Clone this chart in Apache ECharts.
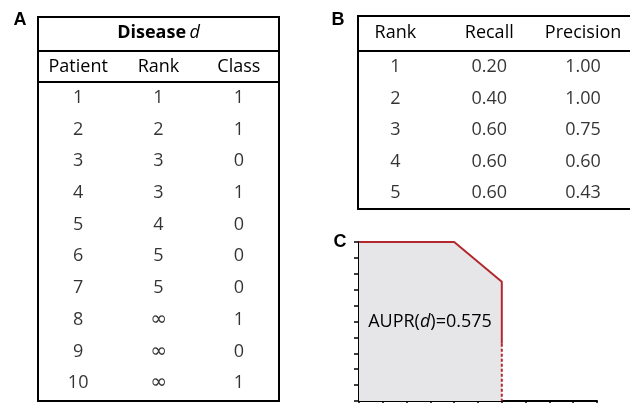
<!DOCTYPE html>
<html><head><meta charset="utf-8">
<script src="https://cdn.jsdelivr.net/npm/echarts@6/dist/echarts.min.js"></script>
<style>html,body{margin:0;padding:0;background:#fff}#c{width:630px;height:403px}</style>
</head><body><div id="c"></div>
<script>
// ---- Data ----
const colsA = ['Patient', 'Rank', 'Class'];
const patients = ['1', '2', '3', '4', '5', '6', '7', '8', '9', '10'];
const ranksA = ['1', '2', '3', '3', '4', '5', '5', '∞', '∞', '∞'];
const classes = ['1', '1', '0', '1', '0', '0', '0', '1', '0', '1'];

const colsB = ['Rank', 'Recall', 'Precision'];
const ranksB = ['1', '2', '3', '4', '5'];
const recallB = ['0.20', '0.40', '0.60', '0.60', '0.60'];
const precisionB = ['1.00', '1.00', '0.75', '0.60', '0.43'];

const curveRecall = [0, 0.4, 0.6, 0.6];
const curvePrecision = [1, 1, 0.75, 0.36];
const dashRecall = [0.6, 0.6];
const dashPrecision = [0.36, 0];
const aupr = '0.575';

// ---- Build ----
const FONT = '"Open Sans", "Noto Sans", sans-serif';
function cells(cols, columns, rows) {
  const out = [];
  columns.forEach((col, ci) => col.forEach((t, ri) => out.push({ value: [cols[ci], rows[ri]], text: t })));
  return out;
}
const dataA = cells(colsA, [patients, ranksA, classes], patients);
const dataB = cells(colsB, [ranksB, recallB, precisionB], ranksB);

const black = '#000';
const tableSeries = (xi, data) => ({
  type: 'scatter', xAxisIndex: xi, yAxisIndex: xi, data: data,
  symbolSize: 1, itemStyle: { color: 'rgba(0,0,0,0)' }, silent: true,
  label: { show: true, position: 'inside',
           formatter: p => p.data.text === '∞' ? '{inf|∞}' : p.data.text,
           color: black, fontFamily: FONT, fontSize: 18,
           rich: { inf: { fontFamily: '"DejaVu Sans", sans-serif', fontSize: 20, color: black } } }
});
const hiddenCat = (data, inverse) => ({
  type: 'category', data: data, inverse: !!inverse, show: false
});
const headerAxis = (gi, data, margin) => ({
  type: 'category', gridIndex: gi, data: data, position: 'top',
  axisLine: { show: false }, axisTick: { show: false }, splitLine: { show: false },
  axisLabel: { show: true, margin: margin, color: black, fontFamily: FONT, fontSize: 18, interval: 0 }
});

const L = (x1, y1, x2, y2) => ({ type: 'line', shape: { x1, y1, x2, y2 }, style: { stroke: black, lineWidth: 2 }, silent: true });
const red = '#b3282d';
const LETTER = 'bold 18px "Liberation Sans", Arial, sans-serif';

const option = {
  animation: false,
  backgroundColor: '#fff',
  grid: [
    { left: 38, top: 82, width: 241, height: 317 },
    { left: 348.5, top: 51, width: 291, height: 158 },
    { left: 359, top: 242, width: 238, height: 159 }
  ],
  xAxis: [
    headerAxis(0, colsA, 6),
    headerAxis(1, colsB, 9),
    { type: 'value', gridIndex: 2, min: 0, max: 1, interval: 0.1,
      axisLine: { show: true, lineStyle: { color: black, width: 2 } },
      axisTick: { show: true, length: 5, lineStyle: { color: black, width: 1.5 } },
      axisLabel: { show: false }, splitLine: { show: false } }
  ],
  yAxis: [
    Object.assign(hiddenCat(patients, true), { gridIndex: 0 }),
    Object.assign(hiddenCat(ranksB, true), { gridIndex: 1 }),
    { type: 'value', gridIndex: 2, min: 0, max: 1, interval: 0.1,
      axisLine: { show: true, lineStyle: { color: black, width: 2 } },
      axisTick: { show: true, length: 5, lineStyle: { color: black, width: 1.5 } },
      axisLabel: { show: false }, splitLine: { show: false } }
  ],
  series: [
    tableSeries(0, dataA),
    tableSeries(1, dataB),
    { type: 'line', xAxisIndex: 2, yAxisIndex: 2, symbol: 'none', silent: true,
      data: curveRecall.map((r, i) => [r, curvePrecision[i]]),
      lineStyle: { color: red, width: 2 },
      areaStyle: { color: '#e6e6e9', opacity: 1 }, z: 2 },
    { type: 'line', xAxisIndex: 2, yAxisIndex: 2, symbol: 'none', silent: true,
      data: dashRecall.map((r, i) => [r, dashPrecision[i]]),
      lineStyle: { color: red, width: 2, type: [3, 2] }, z: 3 }
  ],
  graphic: [
    { type: 'rect', shape: { x: 38, y: 17, width: 241, height: 384 }, style: { fill: 'none', stroke: black, lineWidth: 2 }, silent: true },
    L(38, 51, 279, 51),
    L(38, 82, 279, 82),
    { type: 'text', x: 158.5, y: 33, silent: true,
      style: { text: '{b|Disease} {i|d}', align: 'center', verticalAlign: 'middle',
        rich: { b: { fontFamily: FONT, fontSize: 18, fontWeight: 'bold', fill: black },
                i: { fontFamily: FONT, fontSize: 18, fontStyle: 'italic', fill: black } } } },
    L(358, 16, 632, 16),
    L(358, 51, 632, 51),
    L(358, 209, 632, 209),
    L(358, 15, 358, 210),
    { type: 'text', x: 20, y: 20, silent: true, style: { text: 'A', align: 'center', verticalAlign: 'middle', font: LETTER, fill: black } },
    { type: 'text', x: 338, y: 20, silent: true, style: { text: 'B', align: 'center', verticalAlign: 'middle', font: LETTER, fill: black } },
    { type: 'text', x: 340, y: 242, silent: true, style: { text: 'C', align: 'center', verticalAlign: 'middle', font: LETTER, fill: black } },
    { type: 'text', x: 430, y: 322, silent: true, z: 10,
      style: { text: '{n|AUPR(}{i|d}{n|)=' + aupr + '}', align: 'center', verticalAlign: 'middle',
        rich: { n: { fontFamily: FONT, fontSize: 18, fill: black },
                i: { fontFamily: FONT, fontSize: 18, fontStyle: 'italic', fill: black } } } }
  ]
};
const chart = echarts.init(document.getElementById('c'), null, { renderer: 'canvas' });
chart.setOption(option);
</script></body></html>
